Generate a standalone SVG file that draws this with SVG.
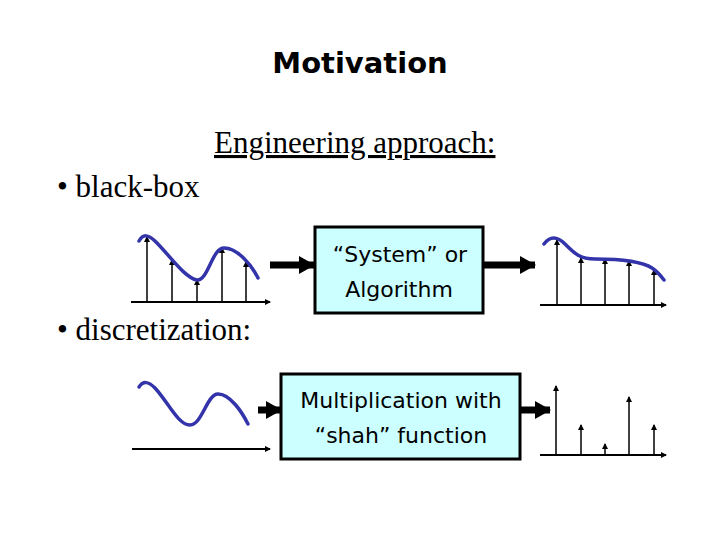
<svg xmlns="http://www.w3.org/2000/svg" width="720" height="540" viewBox="0 0 720 540">
<style>
.t{font-family:"Liberation Serif",serif;font-size:31px;fill:#000}
.b{font-family:"DejaVu Sans",sans-serif;font-size:22px;fill:#000;text-anchor:middle}
.box{fill:#ccffff;stroke:#000;stroke-width:3}
.ax{stroke:#000;stroke-width:2;fill:none}
.st{stroke:#000;stroke-width:1.5;fill:none}
.cv{stroke:#3333aa;stroke-width:3.5;fill:none;stroke-linecap:round}
.ar{stroke:#000;stroke-width:7;fill:none}
</style>
<defs>
<marker id="sa" markerWidth="6" markerHeight="6" refX="5" refY="3" orient="auto" markerUnits="userSpaceOnUse"><path d="M0,0 L6,3 L0,6 Z" fill="#000"/></marker>
<marker id="ba" markerWidth="16" markerHeight="18" refX="15" refY="9" orient="auto" markerUnits="userSpaceOnUse"><path d="M0,0 L16,9 L0,18 Z" fill="#000"/></marker>
</defs>
<text x="360" y="73" font-family="DejaVu Sans,sans-serif" font-weight="bold" font-size="29" text-anchor="middle">Motivation</text>
<text class="t" x="214" y="153" text-decoration="underline">Engineering approach:</text>
<text class="t" x="57" y="197">• black-box</text>
<text class="t" x="57" y="340">• discretization:</text>
<g id="plot1">
<line class="ax" x1="131" y1="302" x2="270" y2="302" marker-end="url(#sa)"/>
<line class="st" x1="147" y1="302" x2="147" y2="237" marker-end="url(#sa)"/>
<line class="st" x1="172" y1="302" x2="172" y2="260" marker-end="url(#sa)"/>
<line class="st" x1="197" y1="302" x2="197" y2="280" marker-end="url(#sa)"/>
<line class="st" x1="222" y1="302" x2="222" y2="248" marker-end="url(#sa)"/>
<line class="st" x1="246" y1="302" x2="246" y2="262" marker-end="url(#sa)"/>
<path class="cv" d="M139,241 C143,234 148,234 156,242 C170,256 185,278 197,280 C208,281 212,248 224,248 C238,248 252,266 258,278"/>
</g>
<g id="box1">
<rect class="box" x="315" y="227" width="168" height="86"/>
<text class="b" x="400" y="262">“System” or</text>
<text class="b" x="399" y="297">Algorithm</text>
</g>
<g id="plot2">
<line class="ax" x1="540" y1="305" x2="666" y2="305" marker-end="url(#sa)"/>
<line class="st" x1="557" y1="305" x2="557" y2="240" marker-end="url(#sa)"/>
<line class="st" x1="581" y1="305" x2="581" y2="258" marker-end="url(#sa)"/>
<line class="st" x1="605" y1="305" x2="605" y2="259" marker-end="url(#sa)"/>
<line class="st" x1="629" y1="305" x2="629" y2="261" marker-end="url(#sa)"/>
<line class="st" x1="654" y1="305" x2="654" y2="270" marker-end="url(#sa)"/>
<path class="cv" d="M544,244 C550,236 557,236 565,244 C575,254 580,259 595,259 C615,259 640,260 652,268 C658,272 661,276 664,280"/>
</g>
<g id="plot3">
<line class="ax" x1="132" y1="449" x2="270" y2="449" marker-end="url(#sa)"/>
<path class="cv" d="M139,387 C143,381 148,381 155,388 C168,402 178,425 190,425 C202,425 207,394 218,394 C230,394 242,412 248,424"/>
</g>
<g id="box2">
<rect class="box" x="281" y="374" width="239" height="85"/>
<text class="b" x="401" y="408">Multiplication with</text>
<text class="b" x="401" y="443">“shah” function</text>
</g>
<g id="plot4">
<line class="ax" x1="540" y1="455" x2="666" y2="455" marker-end="url(#sa)"/>
<line class="st" x1="556" y1="455" x2="556" y2="386" marker-end="url(#sa)"/>
<line class="st" x1="581" y1="455" x2="581" y2="425" marker-end="url(#sa)"/>
<line class="st" x1="605" y1="455" x2="605" y2="444" marker-end="url(#sa)"/>
<line class="st" x1="629" y1="455" x2="629" y2="397" marker-end="url(#sa)"/>
<line class="st" x1="654" y1="455" x2="654" y2="425" marker-end="url(#sa)"/>
</g>
<g id="connectors">
<line class="ar" x1="270" y1="265" x2="314" y2="265" marker-end="url(#ba)"/>
<line class="ar" x1="484" y1="265" x2="535" y2="265" marker-end="url(#ba)"/>
<line class="ar" x1="258" y1="410" x2="281" y2="410" marker-end="url(#ba)"/>
<line class="ar" x1="521" y1="410" x2="550" y2="410" marker-end="url(#ba)"/>
</g>
</svg>
